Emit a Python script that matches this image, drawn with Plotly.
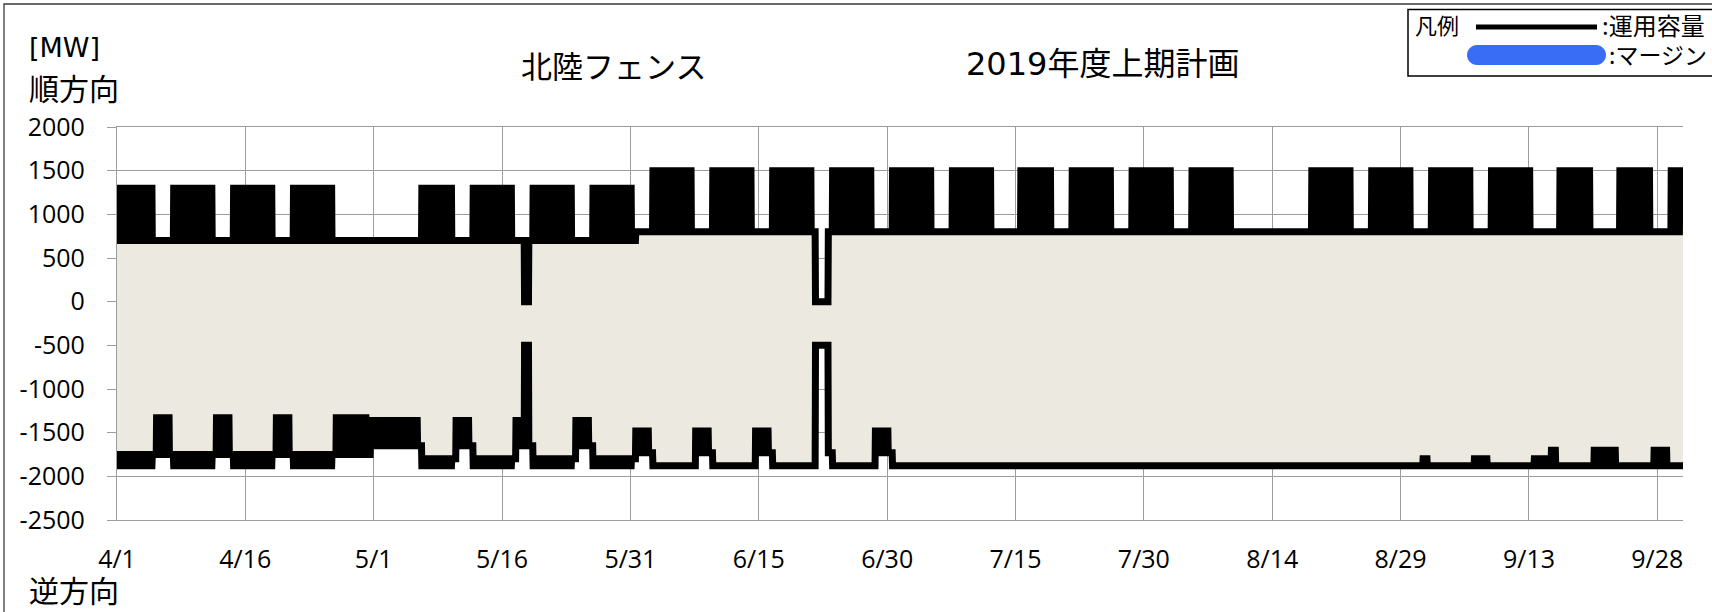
import datetime as dt
import plotly.graph_objects as go

# ---------------- data ----------------
START = "2019-04-01"
N_DAYS = 183                      # 4/1 .. 9/30
X_TICK_DAYS = [0, 15, 30, 45, 60, 75, 90, 105, 120, 135, 150, 165, 180]
X_TICK_LABELS = ["4/1", "4/16", "5/1", "5/16", "5/31", "6/15", "6/30",
                 "7/15", "7/30", "8/14", "8/29", "9/13", "9/28"]
Y_TICKS = [-2500, -2000, -1500, -1000, -500, 0, 500, 1000, 1500, 2000]
Y_TICK_LABELS = ["-2500", "-2000", "-1500", "-1000", "-500", "0", "500", "1000", "1500", "2000"]

# non-business days besides Saturdays / Sundays
HOLIDAYS = ["2019-04-29", "2019-04-30", "2019-05-01", "2019-05-02", "2019-05-03",
            "2019-05-06", "2019-07-15", "2019-08-12", "2019-08-13", "2019-08-14",
            "2019-08-15", "2019-08-16", "2019-09-16", "2019-09-23"]

# planning periods and capacities [MW]
PERIOD_START = ["2019-04-01", "2019-05-01", "2019-06-01", "2019-07-01", "2019-09-01", "2019-09-16"]
FWD_BUS_DAY = [1300, 1300, 1500, 1500, 1500, 1500]
FWD_NIGHT = [700, 700, 800, 800, 800, 800]
REV_BUS_DAY = [-1880, -1880, -1880, -1880, -1880, -1880]
REV_BUS_NIGHT = [-1750, -1800, -1880, -1880, -1880, -1880]
REV_HOL_DAY = [-1330, -1360, -1480, -1880, -1800, -1700]
REV_HOL_NIGHT = [-1750, -1650, -1730, -1880, -1880, -1880]

# work outages
OUTAGE_START = ["2019-05-19 08:00", "2019-06-22 08:00"]
OUTAGE_END = ["2019-05-19 20:00", "2019-06-23 20:00"]
OUTAGE_FWD = [0, 0]
OUTAGE_REV = [-500, -500]

DAY_HOURS = (8, 20)
PLOT_SHIFT_H = 17

# ---------------- build hourly series ----------------
start_dt = dt.datetime.fromisoformat(START)
hol_set = {dt.date.fromisoformat(s) for s in HOLIDAYS}
per_start = [dt.date.fromisoformat(s) for s in PERIOD_START]
out_s = [dt.datetime.fromisoformat(s) for s in OUTAGE_START]
out_e = [dt.datetime.fromisoformat(s) for s in OUTAGE_END]


def period_of(d):
    idx = 0
    for i, s in enumerate(per_start):
        if d >= s:
            idx = i
    return idx


def is_holiday(d):
    return d.weekday() >= 5 or d in hol_set


xs, fwd, rev = [], [], []
for h in range(-1, (N_DAYS + 1) * 24 + 1):
    t = start_dt + dt.timedelta(hours=h)
    x = (h - PLOT_SHIFT_H) / 24.0
    if x < -0.05 or x > N_DAYS + 0.05:
        continue
    hr = t.hour
    if DAY_HOURS[0] <= hr < DAY_HOURS[1]:
        ref, daytime = t.date(), True
    elif hr >= DAY_HOURS[1]:
        ref, daytime = t.date(), False
    else:
        ref, daytime = t.date() - dt.timedelta(days=1), False
    p = period_of(ref)
    hol = is_holiday(ref)
    if daytime and not hol:
        f, r = FWD_BUS_DAY[p], REV_BUS_DAY[p]
    elif daytime:
        f, r = FWD_NIGHT[p], REV_HOL_DAY[p]
    elif hol:
        f, r = FWD_NIGHT[p], REV_HOL_NIGHT[p]
    else:
        f, r = FWD_NIGHT[p], REV_BUS_NIGHT[p]
    for i in range(len(out_s)):
        if out_s[i] <= t < out_e[i]:
            f, r = OUTAGE_FWD[i], OUTAGE_REV[i]
    xs.append(x)
    fwd.append(f)
    rev.append(r)

# ---------------- figure ----------------
W, H = 1712, 612
ML, MR, MT, MB = 117, 29, 127, 92
PW, PH = W - ML - MR, H - MT - MB
GRID = "#9D9D9D"
FILL = "#ECEAE0"
NUM_FONT = "Open Sans"
JP_FONT = "Noto Sans CJK JP"
YMIN, YMAX = Y_TICKS[0], Y_TICKS[-1]


def px(X):
    return (X - ML) / PW


def py(Y):
    return (H - MB - Y) / PH


fig = go.Figure()
fig.add_trace(go.Scatter(x=xs, y=rev, mode="lines", line=dict(width=0),
                         hoverinfo="skip", showlegend=False))
fig.add_trace(go.Scatter(x=xs, y=fwd, mode="lines", line=dict(width=0),
                         fill="tonexty", fillcolor=FILL,
                         hoverinfo="skip", showlegend=False))
fig.add_trace(go.Scatter(x=xs, y=rev, mode="lines", name="運用容量(逆方向)",
                         line=dict(color="black", width=7), showlegend=False))
fig.add_trace(go.Scatter(x=xs, y=fwd, mode="lines", name="運用容量(順方向)",
                         line=dict(color="black", width=7), showlegend=False))

fig.update_layout(
    template="none",
    width=W, height=H,
    margin=dict(l=ML, r=MR, t=MT, b=MB, pad=0, autoexpand=False),
    paper_bgcolor="white", plot_bgcolor="white",
    showlegend=False,
    xaxis=dict(range=[0, N_DAYS], tickmode="array", tickvals=X_TICK_DAYS,
               ticktext=X_TICK_LABELS, showgrid=True, gridcolor=GRID, gridwidth=1.3,
               zeroline=False, showline=True, mirror=True, linecolor=GRID, linewidth=1.3,
               ticks="", ticklabelstandoff=17, automargin=False,
               tickfont=dict(family=NUM_FONT, size=25, color="black")),
    xaxis2=dict(overlaying="x", anchor="free",
                position=(0 - YMIN) / (YMAX - YMIN),
                range=[0, N_DAYS], tickmode="array", tickvals=X_TICK_DAYS,
                showticklabels=False, ticks="outside", ticklen=8, tickwidth=1.3,
                tickcolor=GRID, showline=True, linecolor=GRID, linewidth=1.3,
                showgrid=False, zeroline=False, automargin=False),
    yaxis=dict(range=[YMIN, YMAX], tickmode="array", tickvals=Y_TICKS,
               ticktext=Y_TICK_LABELS,
               showgrid=True, gridcolor=GRID, gridwidth=1.3, zeroline=False,
               showline=True, linecolor=GRID, linewidth=1.3,
               ticks="outside", ticklen=9, tickwidth=1.3, tickcolor=GRID,
               ticklabelstandoff=17, automargin=False,
               tickfont=dict(family=NUM_FONT, size=25, color="black")),
)

ann = []


def add_text(text, X, Y, size, anchor="left", family=JP_FONT):
    ann.append(dict(text=text, x=px(X), y=py(Y), xref="paper", yref="paper",
                    xanchor=anchor, yanchor="middle", showarrow=False,
                    font=dict(family=family, size=size, color="black")))


add_text("[MW]", 27, 48, 27, family="DejaVu Sans, Noto Sans CJK JP")
add_text("順方向", 27, 87, 30)
add_text("逆方向", 27, 589, 30)
add_text("北陸フェンス", 613, 64, 31, anchor="center")
add_text("2019年度上期計画", 1102, 64, 32, anchor="center",
         family="DejaVu Sans, Noto Sans CJK JP")
add_text("凡例", 1413, 24, 22)
add_text(":運用容量", 1600, 24, 24)
add_text(":マージン", 1607, 54, 23)
fig.update_layout(annotations=ann)

shapes = []
# chart border
shapes.append(dict(type="rect", xref="paper", yref="paper",
                   x0=px(4), x1=px(1740), y0=py(4), y1=py(640),
                   line=dict(color="#3A3A3A", width=1.3), fillcolor="rgba(0,0,0,0)"))
# legend box
shapes.append(dict(type="rect", xref="paper", yref="paper",
                   x0=px(1408), x1=px(1740), y0=py(9.5), y1=py(76),
                   line=dict(color="black", width=1.5), fillcolor="white"))
# legend line sample
shapes.append(dict(type="line", xref="paper", yref="paper",
                   x0=px(1476), x1=px(1597), y0=py(27), y1=py(27),
                   line=dict(color="black", width=5)))
# legend blue rounded bar
bx0, bx1, by0, by1, r = 1467, 1606, 45, 65, 10
path = (f"M {px(bx0 + r)},{py(by0)} L {px(bx1 - r)},{py(by0)} "
        f"C {px(bx1 - r * 0.45)},{py(by0)} {px(bx1)},{py(by0 + r * 0.45)} {px(bx1)},{py((by0 + by1) / 2)} "
        f"C {px(bx1)},{py(by1 - r * 0.45)} {px(bx1 - r * 0.45)},{py(by1)} {px(bx1 - r)},{py(by1)} "
        f"L {px(bx0 + r)},{py(by1)} "
        f"C {px(bx0 + r * 0.45)},{py(by1)} {px(bx0)},{py(by1 - r * 0.45)} {px(bx0)},{py((by0 + by1) / 2)} "
        f"C {px(bx0)},{py(by0 + r * 0.45)} {px(bx0 + r * 0.45)},{py(by0)} {px(bx0 + r)},{py(by0)} Z")
shapes.append(dict(type="path", xref="paper", yref="paper", path=path,
                   fillcolor="#3A6DF5", line=dict(width=0)))
fig.update_layout(shapes=shapes)

fig.write_html("out.html", config={"displayModeBar": False},
               post_script="document.body.style.margin='0';document.body.style.overflow='hidden';")
